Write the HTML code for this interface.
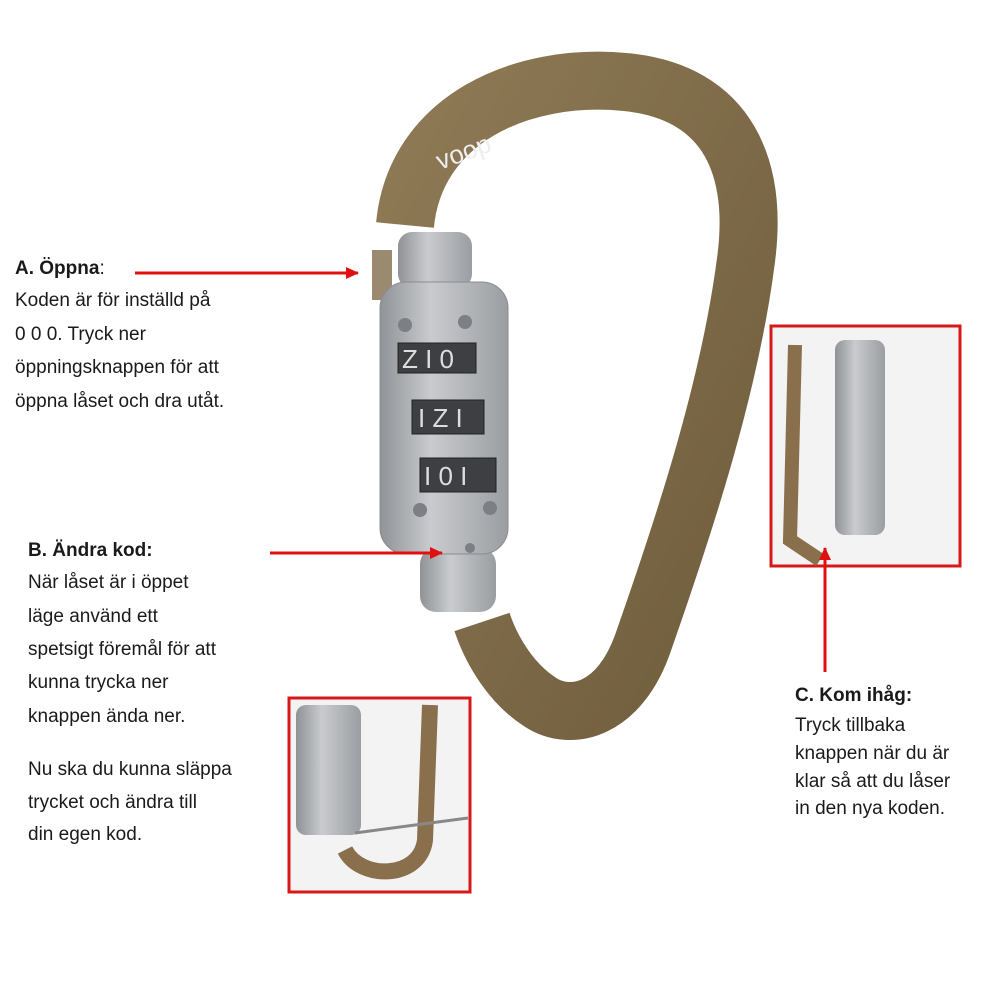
<!DOCTYPE html>
<html><head><meta charset="utf-8"><style>
html,body{margin:0;padding:0;background:#fff;width:1000px;height:1000px;overflow:hidden}
.t{position:absolute;font-family:"Liberation Sans",sans-serif;font-size:19px;color:#1a1a1a;white-space:nowrap}
b{font-weight:bold}
</style></head><body>
<svg width="1000" height="1000" style="position:absolute;left:0;top:0">
<defs>
<linearGradient id="br" x1="0" y1="0" x2="1" y2="1"><stop offset="0" stop-color="#8e7a55"/><stop offset="1" stop-color="#6f5c3c"/></linearGradient>
<linearGradient id="sv" x1="0" y1="0" x2="1" y2="0"><stop offset="0" stop-color="#8f9296"/><stop offset="0.4" stop-color="#c9cbce"/><stop offset="1" stop-color="#9a9da1"/></linearGradient>
<marker id="ah" markerUnits="userSpaceOnUse" markerWidth="13" markerHeight="12" refX="12" refY="6" orient="auto"><path d="M0,0 L13,6 L0,12z" fill="#e01010"/></marker>
</defs>
<path d="M405,225 C415,120 520,72 625,82 C730,92 758,170 746,260 C730,385 686,520 644,640 C620,712 570,722 540,702 C512,684 492,652 482,622" fill="none" stroke="url(#br)" stroke-width="58"/>
<text x="440" y="170" font-family="Liberation Sans" font-size="26" fill="#eee" transform="rotate(-20 440 170)">voop</text>
<rect x="398" y="232" width="74" height="56" rx="14" fill="url(#sv)"/>
<rect x="372" y="250" width="20" height="50" fill="#9a8a70"/>
<rect x="420" y="548" width="76" height="64" rx="16" fill="url(#sv)"/>
<rect x="380" y="282" width="128" height="272" rx="26" fill="url(#sv)" stroke="#8a8d90"/>
<g fill="#7c7f83"><circle cx="405" cy="325" r="7"/><circle cx="465" cy="322" r="7"/><circle cx="420" cy="510" r="7"/><circle cx="490" cy="508" r="7"/><circle cx="470" cy="548" r="5"/></g>
<g fill="#3d3f42" stroke="#222"><rect x="398" y="343" width="78" height="30"/><rect x="412" y="400" width="72" height="34"/><rect x="420" y="458" width="76" height="34"/></g>
<g font-family="Liberation Sans" font-size="26" fill="#ddd"><text x="402" y="368">Z I 0</text><text x="418" y="427">I Z I</text><text x="424" y="485">I 0 I</text></g>
<rect x="771" y="326" width="189" height="240" fill="#f3f3f3" stroke="#d81818" stroke-width="3"/>
<path d="M795,345 L790,540 L820,560" stroke="#8a6f4c" stroke-width="14" fill="none"/>
<rect x="835" y="340" width="50" height="195" rx="10" fill="url(#sv)"/>
<rect x="289" y="698" width="181" height="194" fill="#f3f3f3" stroke="#d81818" stroke-width="3"/>
<path d="M430,705 L425,840 C420,880 360,880 345,850" stroke="#8a6f4c" stroke-width="16" fill="none"/>
<rect x="296" y="705" width="65" height="130" rx="10" fill="url(#sv)"/>
<line x1="355" y1="833" x2="468" y2="818" stroke="#888" stroke-width="3"/>
<line x1="135" y1="273" x2="358" y2="273" stroke="#e01010" stroke-width="3" marker-end="url(#ah)"/>
<line x1="270" y1="553" x2="442" y2="553" stroke="#e01010" stroke-width="3" marker-end="url(#ah)"/>
<line x1="825" y1="672" x2="825" y2="548" stroke="#e01010" stroke-width="3" marker-end="url(#ah)"/>
</svg>
<div class="t" style="left:15px;top:258px"><b>A. Öppna</b>:</div>
<div class="t" style="left:15px;top:290px">Koden är för inställd på</div>
<div class="t" style="left:15px;top:324px">0 0 0. Tryck ner</div>
<div class="t" style="left:15px;top:357px">öppningsknappen för att</div>
<div class="t" style="left:15px;top:391px">öppna låset och dra utåt.</div>
<div class="t" style="left:28px;top:540px"><b>B. Ändra kod:</b></div>
<div class="t" style="left:28px;top:572px">När låset är i öppet</div>
<div class="t" style="left:28px;top:606px">läge använd ett</div>
<div class="t" style="left:28px;top:639px">spetsigt föremål för att</div>
<div class="t" style="left:28px;top:672px">kunna trycka ner</div>
<div class="t" style="left:28px;top:706px">knappen ända ner.</div>
<div class="t" style="left:28px;top:759px">Nu ska du kunna släppa</div>
<div class="t" style="left:28px;top:792px">trycket och ändra till</div>
<div class="t" style="left:28px;top:824px">din egen kod.</div>
<div class="t" style="left:795px;top:685px"><b>C. Kom ihåg:</b></div>
<div class="t" style="left:795px;top:715px">Tryck tillbaka</div>
<div class="t" style="left:795px;top:743px">knappen när du är</div>
<div class="t" style="left:795px;top:771px">klar så att du låser</div>
<div class="t" style="left:795px;top:798px">in den nya koden.</div>
</body></html>
